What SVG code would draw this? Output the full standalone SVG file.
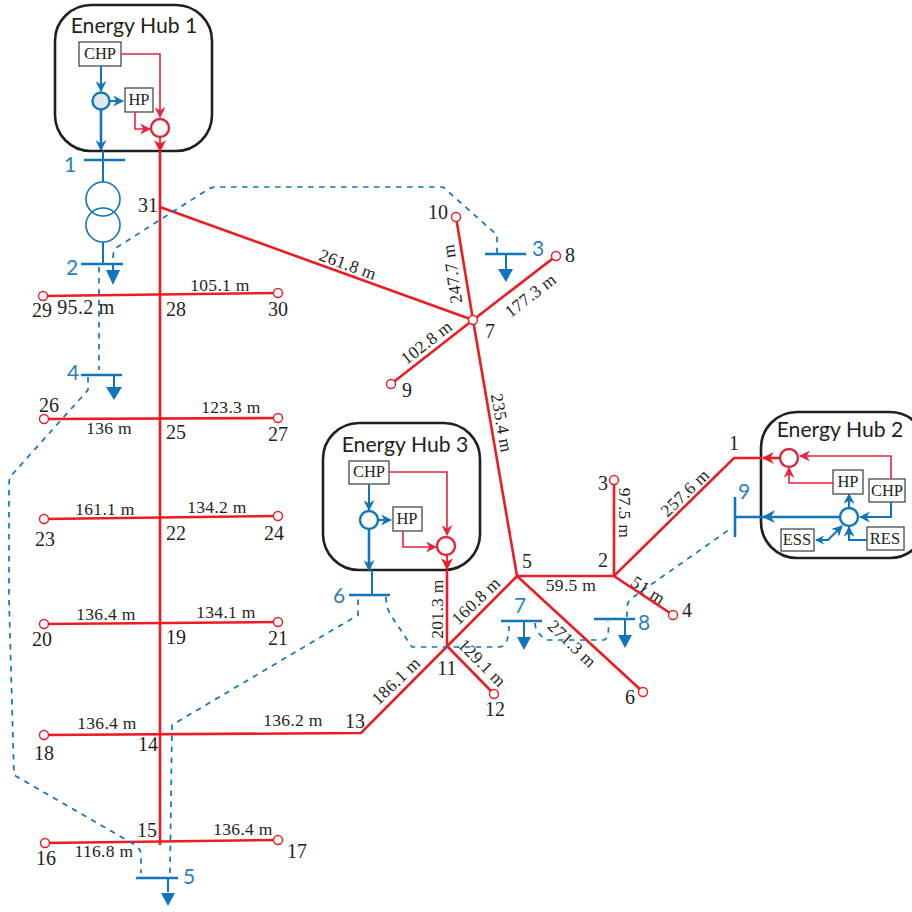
<svg xmlns="http://www.w3.org/2000/svg" width="912" height="912" viewBox="0 0 912 912">
<style>
.hub{fill:#fff;stroke:#231f20;stroke-width:2.6}
.title{font:21.2px Lato,"Open Sans",sans-serif;fill:#231f20;text-anchor:middle}
.box{fill:#fff;stroke:#3a3a3a;stroke-width:1.2}
.bt{font:16.5px "Liberation Serif",serif;fill:#231f20;text-anchor:middle}
.r{fill:none;stroke:#ed1c24;stroke-width:2.6}
.rt{fill:none;stroke:#e5243f;stroke-width:1.6}
.b{fill:none;stroke:#0f75bc;stroke-width:2}
.bb{fill:none;stroke:#0f75bc;stroke-width:2.6}
.bus{fill:none;stroke:#0f75bc;stroke-width:2.6}
.d{fill:none;stroke:#0f75bc;stroke-width:1.7;stroke-dasharray:5.500 5.500}
.cr{fill:#fff;stroke:#d9283f;stroke-width:2.4}
.cb{fill:#fff;stroke:#0f75bc;stroke-width:2.4}
.end{fill:#fff;stroke:#ed1c24;stroke-width:1.4}
.n{font:20px "Liberation Serif",serif;fill:#231f20;text-anchor:middle}
.l{font:17.5px "Liberation Serif",serif;letter-spacing:.3px;fill:#231f20;text-anchor:middle}
.bn{font:21px Lato,"Open Sans",sans-serif;fill:#2a7fc1;text-anchor:middle}
.af{fill:#0f75bc}
.ar{fill:#ed1c24}
</style>
<defs>
<marker id="mb" viewBox="0 0 10 10" refX="9" refY="5" markerWidth="11" markerHeight="11" markerUnits="userSpaceOnUse" orient="auto"><path d="M0 0L10 5L0 10L3 5Z" fill="#0f75bc"/></marker>
<marker id="mbs" viewBox="0 0 10 10" refX="1" refY="5" markerWidth="9" markerHeight="9" markerUnits="userSpaceOnUse" orient="auto"><path d="M10 0L0 5L10 10L7 5Z" fill="#0f75bc"/></marker>
<marker id="mr" viewBox="0 0 10 10" refX="9" refY="5" markerWidth="11" markerHeight="11" markerUnits="userSpaceOnUse" orient="auto"><path d="M0 0L10 5L0 10L3 5Z" fill="#e5243f"/></marker>
<marker id="mR" viewBox="0 0 10 10" refX="9" refY="5" markerWidth="12" markerHeight="12" markerUnits="userSpaceOnUse" orient="auto"><path d="M0 0L10 5L0 10L3 5Z" fill="#ed1c24"/></marker>
</defs>

<g id="hub1">
<rect class="hub" x="55" y="5" width="157" height="146" rx="36"/>
<text class="title" x="134" y="33">Energy Hub 1</text>
<rect class="box" x="79" y="42" width="42" height="24"/><text class="bt" x="100" y="59">CHP</text>
<rect class="box" x="125" y="88" width="28" height="24"/><text class="bt" x="139" y="105">HP</text>
<path class="b" d="M101 66V91" marker-end="url(#mb)"/>
<path class="b" d="M110 101H123" marker-end="url(#mb)" stroke-width="1.6"/>
<path class="rt" d="M121 54H160V117" marker-end="url(#mr)"/>
<path class="rt" d="M135 112V129H150" marker-end="url(#mr)"/>
<circle cx="101" cy="101" r="8.5" fill="#e6e7e8" stroke="#0f75bc" stroke-width="2.4"/>
<circle class="cr" cx="160" cy="128" r="9"/>
</g>

<g id="hub2">
<rect class="hub" x="761" y="412" width="165" height="146" rx="36"/>
<text class="title" x="840" y="437">Energy Hub 2</text>
<rect class="box" x="833" y="470" width="30" height="24"/><text class="bt" x="848" y="487">HP</text>
<rect class="box" x="869" y="479" width="36" height="23"/><text class="bt" x="887" y="496">CHP</text>
<rect class="box" x="781" y="529" width="33" height="22"/><text class="bt" x="797" y="545">ESS</text>
<rect class="box" x="867" y="527" width="37" height="23"/><text class="bt" x="885" y="544">RES</text>
<path class="rt" d="M891 479V456H800" marker-end="url(#mr)"/>
<path class="rt" d="M833 483H789V468" marker-end="url(#mr)"/>
<path class="b" d="M891 502V517H860" marker-end="url(#mb)"/>
<path class="b" d="M849 508V494" marker-end="url(#mb)"/>
<path class="b" d="M867 540H849V527" marker-end="url(#mb)"/>
<path class="b" d="M816 540H828L842 526" marker-start="url(#mbs)" marker-end="url(#mb)"/>
<circle class="cr" cx="789" cy="458" r="9"/>
<circle class="cb" cx="849" cy="517" r="9"/>
</g>

<g id="hub3">
<rect class="hub" x="323" y="423" width="157" height="147" rx="36"/>
<text class="title" x="405" y="452">Energy Hub 3</text>
<rect class="box" x="349" y="461" width="40" height="23"/><text class="bt" x="369" y="477">CHP</text>
<rect class="box" x="393" y="507" width="29" height="24"/><text class="bt" x="407" y="524">HP</text>
<path class="b" d="M369 484V510" marker-end="url(#mb)"/>
<path class="b" d="M378 520H391" marker-end="url(#mb)" stroke-width="1.6"/>
<path class="rt" d="M389 472H447V535" marker-end="url(#mr)"/>
<path class="rt" d="M403 531V547H436" marker-end="url(#mr)"/>
<circle class="cb" cx="369" cy="520" r="9"/>
<circle class="cr" cx="446" cy="546" r="9"/>
</g>

<g id="connectors">
<path class="r" d="M160 151V845"/>
<path class="r" d="M160 137V151" marker-end="url(#mR)" style="stroke-width:1.8"/>
<path class="r" d="M447 570V646"/>
<path class="r" d="M447 555V569" marker-end="url(#mR)" style="stroke-width:1.8"/>
<path class="r" d="M160 207L473 320"/>
<path class="r" d="M456 217L473 320L517 576"/>
<path class="r" d="M391 384L473 320L556 256"/>
<path class="r" d="M43 296L278 293"/>
<path class="r" d="M44 419L278 418"/>
<path class="r" d="M44 519L278 516"/>
<path class="r" d="M44 624L278 622"/>
<path class="r" d="M44 735L361 733L517 576H614L734 458H762"/>
<path class="r" d="M780 458H763" marker-end="url(#mR)"/>
<path class="r" d="M45 843L278 840"/>
<path class="r" d="M614 480V576L673 615"/>
<path class="r" d="M517 576L643 692"/>
<path class="r" d="M447 646L494 694"/>

<path class="bb" d="M101 110V150" marker-end="url(#mb)"/>
<path class="b" d="M103 151V182M103 242V264"/>
<path class="bus" d="M84 160H125"/>
<path class="bus" d="M81 264H123"/>
<circle cx="103" cy="199" r="17" fill="none" stroke="#0f75bc" stroke-width="1.6"/>
<circle cx="103" cy="225" r="17" fill="none" stroke="#0f75bc" stroke-width="1.6"/>

<path class="bb" d="M369 530V570" marker-end="url(#mb)"/>
<path class="b" d="M372 570V595"/>
<path class="bus" d="M349 595H390"/>
<path class="bb" d="M840 517H735"/>
<path class="af" d="M775 510L762 517L775 523L771 517Z"/>
<path class="bb" d="M735 497V537"/>
<path class="bus" d="M485 254H526"/>
<path class="bus" d="M81 375H122"/>
<path class="bus" d="M136 878H178"/>
<path class="bus" d="M501 621H542"/>
<path class="bus" d="M594 619H635"/>

<path class="b" d="M113 264V272"/><path class="af" d="M106 270H120L113 285Z"/>
<path class="b" d="M506 254V270"/><path class="af" d="M498 269H513L506 282Z"/>
<path class="b" d="M114 375V387"/><path class="af" d="M106 387H122L114 400Z"/>
<path class="b" d="M168 878V892"/><path class="af" d="M161 893H175L168 906Z"/>
<path class="b" d="M524 621V638"/><path class="af" d="M517 637H531L524 650Z"/>
<path class="b" d="M625 619V635"/><path class="af" d="M618 635H632L625 648Z"/>

<path class="d" d="M113 258Q113 249 119 246L207 190Q211 187 216 187H443L497 235V253"/>
<path class="d" d="M99 267V370"/>
<path class="d" d="M88 377V390L10 477Q9 480 9 486V600L14 775L135 845Q141 849 141 855V873"/>
<path class="d" d="M170 873L172 725L358 615V597"/>
<path class="d" d="M386 597Q386 606 390 614L412 647H500Q509 645 509 626"/>
<path class="d" d="M535 623Q535 632 546 640H604Q610 638 608 621"/>
<path class="d" d="M627 617V609Q627 601 632 598L730 529"/>
</g>

<g id="ends">
<circle class="end" cx="43" cy="296" r="4.500"/><circle class="end" cx="278" cy="293" r="4.500"/>
<circle class="end" cx="44" cy="419" r="4.500"/><circle class="end" cx="278" cy="418" r="4.500"/>
<circle class="end" cx="44" cy="519" r="4.500"/><circle class="end" cx="278" cy="516" r="4.500"/>
<circle class="end" cx="44" cy="624" r="4.500"/><circle class="end" cx="278" cy="622" r="4.500"/>
<circle class="end" cx="44" cy="735" r="4.500"/>
<circle class="end" cx="45" cy="843" r="4.500"/><circle class="end" cx="278" cy="840" r="4.500"/>
<circle class="end" cx="456" cy="217" r="4.500"/><circle class="end" cx="556" cy="256" r="4.500"/>
<circle class="end" cx="391" cy="384" r="4.500"/><circle class="end" cx="473" cy="320" r="4.500"/>
<circle class="end" cx="614" cy="480" r="4.500"/><circle class="end" cx="673" cy="615" r="4.500"/>
<circle class="end" cx="643" cy="692" r="4.500"/><circle class="end" cx="494" cy="694" r="4.500"/>
</g>

<g id="labels">
<text class="bn" x="70" y="172">1</text><text class="bn" x="72" y="275">2</text>
<text class="bn" x="538" y="256">3</text><text class="bn" x="73" y="380">4</text>
<text class="bn" x="189" y="884">5</text><text class="bn" x="339" y="603">6</text>
<text class="bn" x="520" y="613">7</text><text class="bn" x="644" y="630">8</text>
<text class="bn" x="744" y="499">9</text>

<text class="n" x="148" y="212">31</text><text class="n" x="438" y="219">10</text>
<text class="n" x="570" y="262">8</text><text class="n" x="490" y="338">7</text>
<text class="n" x="407" y="397">9</text><text class="n" x="42" y="317">29</text>
<text class="n" x="176" y="316">28</text><text class="n" x="278" y="316">30</text>
<text class="n" x="49" y="412">26</text><text class="n" x="176" y="439">25</text>
<text class="n" x="278" y="441">27</text><text class="n" x="45" y="546">23</text>
<text class="n" x="176" y="540">22</text><text class="n" x="274" y="540">24</text>
<text class="n" x="42" y="646">20</text><text class="n" x="176" y="644">19</text>
<text class="n" x="278" y="645">21</text><text class="n" x="44" y="760">18</text>
<text class="n" x="148" y="751">14</text><text class="n" x="147" y="837">15</text>
<text class="n" x="46" y="865">16</text><text class="n" x="297" y="858">17</text>
<text class="n" x="355" y="728">13</text><text class="n" x="447" y="675">11</text>
<text class="n" x="495" y="716">12</text><text class="n" x="630" y="704">6</text>
<text class="n" x="527" y="568">5</text><text class="n" x="603" y="567">2</text>
<text class="n" x="603" y="490">3</text><text class="n" x="687" y="617">4</text>
<text class="n" x="734" y="450">1</text>

<text class="l" x="220" y="291">105.1 m</text>
<text class="l" x="86" y="314" style="font-size:20px">95.2 m</text>
<text class="l" x="231" y="413">123.3 m</text>
<text class="l" x="109" y="434">136 m</text>
<text class="l" x="105" y="515">161.1 m</text>
<text class="l" x="217" y="513">134.2 m</text>
<text class="l" x="106" y="620">136.4 m</text>
<text class="l" x="226" y="618">134.1 m</text>
<text class="l" x="107" y="729">136.4 m</text>
<text class="l" x="293" y="726">136.2 m</text>
<text class="l" x="243" y="835">136.4 m</text>
<text class="l" x="104" y="857">116.8 m</text>

<text class="l" transform="translate(346,270) rotate(20)">261.8 m</text>
<text class="l" transform="translate(458,273) rotate(-98)">247.7 m</text>
<text class="l" transform="translate(534,300) rotate(-38)">177.3 m</text>
<text class="l" transform="translate(430,347) rotate(-38)">102.8 m</text>
<text class="l" transform="translate(496,424) rotate(80)">235.4 m</text>
<text class="l" transform="translate(619,513) rotate(90)">97.5 m</text>
<text class="l" transform="translate(689,497) rotate(-44)">257.6 m</text>
<text class="l" x="571" y="591">59.5 m</text>
<text class="l" transform="translate(645,595) rotate(33)">51 m</text>
<text class="l" transform="translate(568,648) rotate(44)">271.3 m</text>
<text class="l" transform="translate(480,605) rotate(-44)">160.8 m</text>
<text class="l" transform="translate(443,609) rotate(-90)">201.3 m</text>
<text class="l" transform="translate(478,667) rotate(45)">129.1 m</text>
<text class="l" transform="translate(400,685) rotate(-44)">186.1 m</text>
</g>
</svg>
